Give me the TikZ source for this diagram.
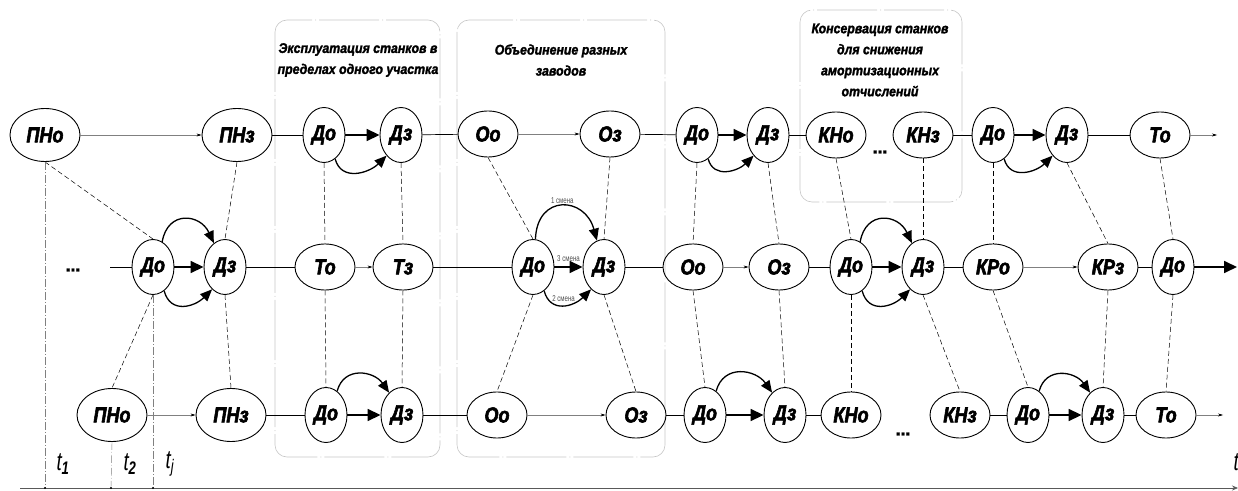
\documentclass[tikz,border=0pt]{standalone}
\usepackage{fontspec}
\setmainfont{Liberation Sans}[FakeStretch=0.9]
\newfontfamily\nodefont{Liberation Sans}[FakeStretch=0.84, FakeBold=2.6]
\newfontfamily\headfont{Liberation Sans}[FakeStretch=0.88, FakeBold=1.8]
\newfontfamily\narrowfont{Liberation Sans}[FakeStretch=0.72]
\usetikzlibrary{shapes.geometric,arrows.meta}

\begin{document}
\begin{tikzpicture}[x=1pt, y=1pt,
      event/.style ={ellipse, draw, line width=0.9pt, inner sep=0pt,
                     font=\nodefont\fontsize{21.5}{21.5}\selectfont\bfseries\itshape},
      shortevent/.style ={event, minimum width=42pt, minimum height=55pt},
      longevent/.style ={event, minimum width=60pt, minimum height=46pt},
      pnevent/.style ={event, minimum width=70pt, minimum height=53pt},
      link/.style ={line width=0.7pt},
      weak/.style ={gray, line width=0.5pt, -{Stealth[length=5pt,width=3pt,black]}},
      strong/.style ={line width=1.7pt, -{Triangle[length=13pt,width=12pt]}},
      bendarrow/.style ={line width=1.3pt, -{Triangle[length=12pt,width=10pt]}},
      tie/.style ={line width=0.5pt, dash pattern=on 5pt off 3pt},
      timeline/.style ={gray, line width=0.4pt, dash pattern=on 8pt off 2pt on 1pt off 2pt},
      groupbox/.style ={gray!45, line width=0.6pt, rounded corners=12pt,
                        dash pattern=on 60pt off 3pt on 1pt off 3pt},
      heading/.style ={font=\headfont\fontsize{14}{21}\selectfont\bfseries\itshape, align=center},
      ellipsis/.style ={font=\headfont\fontsize{20}{20}\selectfont\bfseries},
      shiftlabel/.style ={font=\narrowfont\fontsize{8.5}{8.5}\selectfont, gray!60!black, inner sep=1pt},
      tick/.style ={font=\narrowfont\fontsize{26}{26}\selectfont\itshape}]

   \useasboundingbox (0,0) rectangle (1238,490);

   % group frames
   \draw[groupbox] (275,470) rectangle (440,33);
   \draw[groupbox] (457,470) rectangle (665,33);
   \draw[groupbox] (800,480) rectangle (962,288);
   \node[heading] (h1) at (358,430) {Эксплуатация станков в\\пределах одного участка};
   \node[heading] (h2) at (561,430) {Объединение разных\\заводов};
   \node[heading] (h3) at (880,430) {Консервация станков\\для снижения\\амортизационных\\отчислений};

   % top row
   \node[pnevent] (pno1) at (45,355) {ПНо};
   \node[pnevent] (pnz1) at (237,355) {ПНз};
   \node[shortevent] (do1) at (324,355) {До};
   \node[shortevent] (dz1) at (401,355) {Дз};
   \node[longevent] (oo1) at (488,356) {Оо};
   \node[longevent] (oz1) at (610,356) {Оз};
   \node[shortevent] (do2) at (697,355) {До};
   \node[shortevent] (dz2) at (768,355) {Дз};
   \node[longevent] (kno1) at (836,355) {КНо};
   \node[longevent] (knz1) at (923,355) {КНз};
   \node[shortevent] (do3) at (993,355) {До};
   \node[shortevent] (dz3) at (1067,355) {Дз};
   \node[longevent] (to1) at (1160,355) {То};
   \coordinate (end1) at (1217,355);
   \node[ellipsis] (dots1) at (880,338) {...};

   % middle row
   \coordinate (start2) at (110,223);
   \node[shortevent] (do4) at (153,223) {До};
   \node[shortevent] (dz4) at (225,223) {Дз};
   \node[longevent] (to2) at (325,223) {То};
   \node[longevent] (tz2) at (403,223) {Тз};
   \node[shortevent] (do5) at (533,223) {До};
   \node[shortevent] (dz5) at (604,223) {Дз};
   \node[longevent] (oo2) at (693,223) {Оо};
   \node[longevent] (oz2) at (779,223) {Оз};
   \node[shortevent] (do6) at (851,223) {До};
   \node[shortevent] (dz6) at (923,223) {Дз};
   \node[longevent] (kro2) at (993,223) {КРо};
   \node[longevent] (krz2) at (1108,223) {КРз};
   \node[shortevent] (do7) at (1173,223) {До};
   \coordinate (end2) at (1237,223);
   \node[ellipsis] (dots2) at (73,220) {...};

   % bottom row
   \node[pnevent] (pno3) at (112,75) {ПНо};
   \node[pnevent] (pnz3) at (231,75) {ПНз};
   \node[shortevent] (do8) at (326,75) {До};
   \node[shortevent] (dz8) at (402,75) {Дз};
   \node[longevent] (oo3) at (497,75) {Оо};
   \node[longevent] (oz3) at (636,75) {Оз};
   \node[shortevent] (do9) at (705,75) {До};
   \node[shortevent] (dz9) at (785,75) {Дз};
   \node[longevent] (kno3) at (851,75) {КНо};
   \node[longevent] (knz3) at (960,75) {КНз};
   \node[shortevent] (do10) at (1028,75) {До};
   \node[shortevent] (dz10) at (1103,75) {Дз};
   \node[longevent] (to3) at (1166,75) {То};
   \coordinate (end3) at (1223,75);
   \node[ellipsis] (dots3) at (903,56) {...};

   % top row links
   \draw[weak] (pno1) -- (pnz1);
   \draw[link] (pnz1) -- (do1);
   \draw[strong] (do1) -- (dz1);
   \draw[bendarrow] (do1.-65) to[out=-75, in=-135, looseness=1.2] (dz1.-125);
   \draw[link] (dz1) -- (oo1);
   \draw[weak] (oo1) -- (oz1);
   \draw[link] (oz1) -- (do2);
   \draw[strong] (do2) -- (dz2);
   \draw[bendarrow] (do2.-65) to[out=-75, in=-135, looseness=1.2] (dz2.-125);
   \draw[link] (dz2) -- (kno1);
   \draw[link] (knz1) -- (do3);
   \draw[strong] (do3) -- (dz3);
   \draw[bendarrow] (do3.-65) to[out=-75, in=-135, looseness=1.2] (dz3.-125);
   \draw[link] (dz3) -- (to1);
   \draw[weak] (to1) -- (end1);

   % middle row links
   \draw[link] (start2) -- (do4);
   \draw[strong] (do4) -- (dz4);
   \draw[bendarrow] (do4.70) to[out=80, in=115, looseness=1.6] (dz4.115);
   \draw[bendarrow] (do4.-65) to[out=-75, in=-135, looseness=1.3] (dz4.-120);
   \draw[link] (dz4) -- (to2);
   \draw[weak] (to2) -- (tz2);
   \draw[link] (tz2) -- (do5);
   \draw[strong] (do5) -- node[shiftlabel, above=4pt] (s3) {3 смена} (dz5);
   \draw[bendarrow] (do5.85) to[out=88, in=105, looseness=1.9]
        node[shiftlabel, above=1pt] (s1) {1 смена} (dz5.105);
   \draw[bendarrow] (do5.-65) to[out=-75, in=-135, looseness=1.3]
        node[shiftlabel, above=2pt] (s2) {2 смена} (dz5.-120);
   \draw[link] (dz5) -- (oo2);
   \draw[weak] (oo2) -- (oz2);
   \draw[link] (oz2) -- (do6);
   \draw[strong] (do6) -- (dz6);
   \draw[bendarrow] (do6.70) to[out=80, in=115, looseness=1.6] (dz6.115);
   \draw[bendarrow] (do6.-65) to[out=-75, in=-135, looseness=1.3] (dz6.-120);
   \draw[link] (dz6) -- (kro2);
   \draw[weak] (kro2) -- (krz2);
   \draw[link] (krz2) -- (do7);
   \draw[strong] (do7) -- (end2);

   % bottom row links
   \draw[weak] (pno3) -- (pnz3);
   \draw[link] (pnz3) -- (do8);
   \draw[strong] (do8) -- (dz8);
   \draw[bendarrow] (do8.65) to[out=75, in=125, looseness=1.3] (dz8.120);
   \draw[link] (dz8) -- (oo3);
   \draw[weak] (oo3) -- (oz3);
   \draw[link] (oz3) -- (do9);
   \draw[strong] (do9) -- (dz9);
   \draw[bendarrow] (do9.65) to[out=75, in=125, looseness=1.3] (dz9.120);
   \draw[link] (dz9) -- (kno3);
   \draw[link] (knz3) -- (do10);
   \draw[strong] (do10) -- (dz10);
   \draw[bendarrow] (do10.65) to[out=75, in=125, looseness=1.3] (dz10.120);
   \draw[link] (dz10) -- (to3);
   \draw[weak] (to3) -- (end3);

   % ties top -- middle
   \draw[tie] (pno1.south) -- (do4.north);
   \draw[tie] (pnz1.south) -- (dz4.north);
   \draw[tie] (do1.south) -- (to2.north);
   \draw[tie] (dz1.south) -- (tz2.north);
   \draw[tie] (oo1.south) -- (do5.north);
   \draw[tie] (oz1.south) -- (dz5.north);
   \draw[tie] (do2.south) -- (oo2.north);
   \draw[tie] (dz2.south) -- (oz2.north);
   \draw[tie] (kno1.south) -- (do6.north);
   \draw[tie] (knz1.south) -- (dz6.north);
   \draw[tie] (do3.south) -- (kro2.north);
   \draw[tie] (dz3.south) -- (krz2.north);
   \draw[tie] (to1.south) -- (do7.north);

   % ties middle -- bottom
   \draw[tie] (do4.south) -- (pno3.north);
   \draw[tie] (dz4.south) -- (pnz3.north);
   \draw[tie] (to2.south) -- (do8.north);
   \draw[tie] (tz2.south) -- (dz8.north);
   \draw[tie] (do5.south) -- (oo3.north);
   \draw[tie] (dz5.south) -- (oz3.north);
   \draw[tie] (oo2.south) -- (do9.north);
   \draw[tie] (oz2.south) -- (dz9.north);
   \draw[tie] (do6.south) -- (kno3.north);
   \draw[tie] (dz6.south) -- (knz3.north);
   \draw[tie] (kro2.south) -- (do10.north);
   \draw[tie] (krz2.south) -- (dz10.north);
   \draw[tie] (do7.south) -- (to3.north);

   % time axis
   \coordinate (ax0) at (20,2);
   \coordinate (ax1) at (1238,2);
   \coordinate (t1) at (45,2);
   \coordinate (t2) at (111,2);
   \coordinate (tj) at (153,2);
   \draw[gray!70!black, line width=0.7pt, -{Stealth[length=6pt,width=5pt]}] (ax0) -- (ax1);
   \draw[timeline] (pno1.south) -- (t1);
   \draw[timeline] (pno3.south) -- (t2);
   \draw[timeline] (do4.south) -- (tj);
   \fill (t1) circle (1.2pt);
   \fill (t2) circle (1.2pt);
   \fill (tj) circle (1.2pt);
   \node[tick] (lt1) at (63,26) {t\textsubscript{\bfseries 1}};
   \node[tick] (lt2) at (130,26) {t\textsubscript{\bfseries 2}};
   \node[tick] (ltj) at (170,26) {t\textsubscript{j}};
   \node[tick, anchor=west] (lt) at (1230,28) {t};

 \end{tikzpicture}
\end{document}
